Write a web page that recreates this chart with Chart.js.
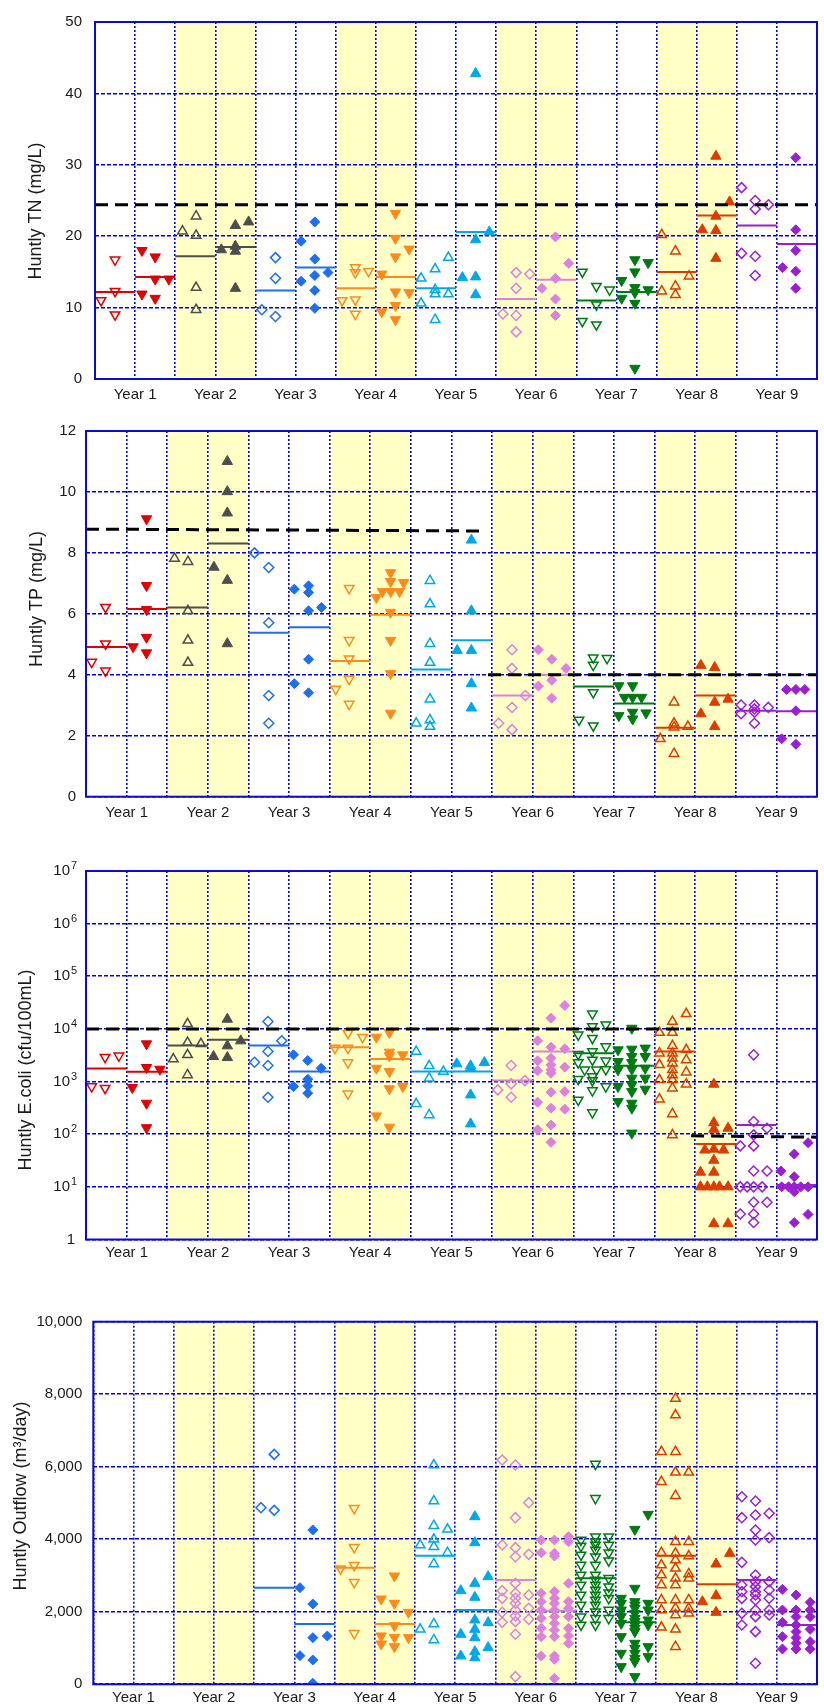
<!DOCTYPE html>
<html>
<head>
<meta charset="utf-8">
<script src="https://cdn.jsdelivr.net/npm/chart.js@4.4.1/dist/chart.umd.min.js"></script>
<style>
html, body { margin: 0; padding: 0; background: #fff; }
#wrap { position: relative; width: 824px; height: 1708px; }
canvas { position: absolute; left: 0; }
</style>
</head>
<body>
<div id="wrap">
  <canvas id="tn" width="824" height="412" style="top:0px"></canvas>
  <canvas id="tp" width="824" height="420" style="top:412px"></canvas>
  <canvas id="ecoli" width="824" height="440" style="top:832px"></canvas>
  <canvas id="flow" width="824" height="436" style="top:1272px"></canvas>
</div>
<script>
// each year: list of columns [offset inside half-year column, values...]
const years = ['Year 1', 'Year 2', 'Year 3', 'Year 4', 'Year 5', 'Year 6', 'Year 7', 'Year 8', 'Year 9'];
const shadedYears = [2, 4, 6, 8];
const yearColors = ['#e00000', '#4d4d4d', '#1e6ef0', '#ff8a1c', '#00a8e6', '#dc82dc', '#007a12', '#dc3c00', '#9a1fd0'];
const yearMarkers = ['down', 'up', 'diamond', 'down', 'up', 'diamond', 'down', 'up', 'diamond'];

// Huntly TN (mg/L)
const tnHollow = [
  [[.15, 11], [.5, 16.7, 12.3, 9.0]],
  [[.18, 20.7], [.52, 22.8, 20.1, 12.8, 9.7]],
  [[.16, 9.7], [.5, 17.0, 14.1, 8.75]],
  [[.16, 11.0], [.49, 15.6, 14.9, 11.1, 9.1], [.82, 15.1]],
  [[.13, 14.1, 10.6], [.48, 15.4, 12.5, 11.9, 8.3], [.81, 17.0, 11.9]],
  [[.17, 9.1], [.5, 14.9, 12.7, 8.9, 6.6], [.84, 14.7]],
  [[.15, 15.0, 8.1], [.5, 13.0, 10.4, 7.6], [.83, 12.5]],
  [[.13, 20.2, 12.3], [.47, 17.9, 13.0, 11.8], [.81, 14.4]],
  [[.12, 26.8, 17.6], [.46, 25.0, 23.8, 17.2, 14.5], [.79, 24.4]]
];
const tnFilled = [
  [[.17, 18.0, 11.9], [.5, 17.1, 14.0, 11.3], [.84, 14.0]],
  [[.15, 18.1], [.5, 21.5, 18.6, 17.9, 12.7], [.83, 22.0]],
  [[.14, 19.3, 13.7], [.48, 22.0, 16.8, 14.5, 12.4, 9.9], [.81, 14.9]],
  [[.15, 14.7, 9.4], [.49, 23.2, 19.7, 17.1, 12.2, 10.3, 8.3], [.83, 18.2, 12.1]],
  [[.16, 14.2], [.49, 42.8, 19.5, 14.3, 11.8], [.83, 20.6]],
  [[.14, 12.7], [.48, 19.9, 14.1, 11.2, 8.9], [.81, 16.2]],
  [[.13, 13.8, 11.3], [.46, 16.7, 15.0, 12.8, 12.1, 10.6, 1.5], [.79, 16.3, 12.5]],
  [[.14, 20.9], [.48, 31.2, 22.8, 20.8, 16.9], [.82, 24.8]],
  [[.14, 15.6], [.47, 31.0, 20.9, 18.0, 15.1, 12.7]]
];
const tnHollowMedian = [12.2, 17.2, 12.4, 12.7, 12.7, 11.2, 11.0, 15.0, 21.5];
const tnFilledMedian = [14.3, 18.5, 15.6, 14.3, 20.6, 13.9, 12.2, 22.9, 18.9];
const tnLimit = [[0, 24.4, 18, 24.4]];
const tnTicks = [0, 10, 20, 30, 40, 50];

// Huntly TP (mg/L)
const tpHollow = [
  [[.14, 4.42], [.48, 6.22, 5.02, 4.13]],
  [[.18, 7.82], [.51, 7.71, 6.10, 5.13, 4.40]],
  [[.15, 8.0], [.5, 7.52, 5.71, 3.32, 2.41]],
  [[.15, 3.53], [.48, 6.84, 5.13, 4.53, 3.86, 3.04]],
  [[.13, 2.41], [.47, 7.09, 6.32, 5.02, 4.40, 3.20, 2.52, 2.30]],
  [[.16, 2.41], [.49, 4.82, 4.21, 2.93, 2.20], [.82, 3.32]],
  [[.14, 2.52], [.49, 4.56, 4.32, 3.42, 2.33], [.83, 4.54]],
  [[.14, 1.90], [.48, 3.10, 2.41, 2.28, 1.41], [.82, 2.30]],
  [[.13, 3.01, 2.72], [.46, 3.01, 2.88, 2.77, 2.41], [.8, 2.93]]
];
const tpFilled = [
  [[.16, 4.92], [.49, 9.12, 6.93, 6.14, 5.23, 4.72]],
  [[.15, 7.53], [.48, 11.0, 10.01, 9.31, 7.1, 5.02]],
  [[.13, 6.81, 3.71], [.48, 6.92, 6.70, 6.10, 4.51, 3.41], [.8, 6.21]],
  [[.15, 6.54], [.3, 6.73], [.5, 7.35, 7.06, 6.73, 6.05, 5.13, 4.04, 2.74], [.72, 6.73], [.82, 7.03]],
  [[.14, 4.80], [.49, 8.42, 6.10, 4.80, 3.71, 2.91]],
  [[.14, 4.82, 3.63], [.47, 4.51, 3.82, 3.23], [.82, 4.21]],
  [[.12, 3.64, 2.66], [.26, 3.26], [.46, 3.64, 3.26, 2.77, 2.55], [.68, 3.26], [.79, 2.75]],
  [[.14, 4.31, 2.72], [.48, 4.24, 3.10, 2.30], [.81, 3.20]],
  [[.13, 1.90], [.25, 3.52], [.48, 3.52, 2.82, 1.72], [.7, 3.52]]
];
const tpHollowMedian = [4.91, 6.21, 5.38, 4.45, 4.17, 3.32, 3.62, 2.26, 2.82];
const tpFilledMedian = [6.16, 8.31, 5.56, 5.97, 5.13, 4.0, 3.06, 3.32, 2.80];
const tpLimit = [[0, 8.78, 9.8, 8.72], [9.9, 4.0, 18, 4.0]];
const tpTicks = [0, 2, 4, 6, 8, 10, 12];

// Huntly E.coli (cfu/100mL)
const ecHollow = [
  [[.14, 804], [.47, 2910, 749], [.81, 3080]],
  [[.15, 2670], [.5, 12500, 5520, 3220, 1340], [.83, 5210]],
  [[.15, 2330], [.48, 13800, 3720, 2020, 505], [.82, 5940]],
  [[.13, 4320], [.45, 8320, 4320, 2300, 584], [.81, 6980]],
  [[.13, 3720, 377], [.45, 1990, 1160, 233], [.8, 1550]],
  [[.14, 695], [.47, 2020, 904, 505], [.81, 1045]],
  [[.12, 7730, 3320, 2300, 1110, 449], [.28, 1670], [.47, 19400, 11100, 6680, 3720, 2580, 1245, 1045, 675, 258], [.57, 1670], [.8, 12000, 4620, 2480, 1700, 804]],
  [[.12, 8550, 3470, 2080, 1080, 462], [.44, 13800, 8550, 4770, 3470, 2780, 2240, 1670, 1340, 1080, 749, 243, 97], [.78, 19400, 4010, 2580, 1510, 891]],
  [[.11, 60, 10, 3.05], [.28, 10], [.44, 3220, 174, 97, 60, 20, 10, 5.1, 3.05, 2.1], [.65, 10], [.77, 130, 20, 5.1]]
];
const ecFilled = [
  [[.14, 770], [.49, 5210, 1850, 388, 133], [.82, 1720]],
  [[.14, 2990], [.48, 15300, 4770, 2860], [.81, 5940]],
  [[.11, 3220, 804], [.46, 2510, 1110, 828, 601], [.79, 1790]],
  [[.15, 6980, 1790, 223], [.47, 8550, 3620, 3080, 1550, 727, 136], [.8, 3220, 804]],
  [[.13, 2170], [.47, 1990, 1790, 558, 157], [.81, 2300]],
  [[.12, 5940, 2480, 1600, 406, 121], [.45, 16000, 4510, 2780, 2080, 1670, 1440, 628, 312, 150, 70], [.79, 27900, 4190, 1880, 646, 299]],
  [[.1, 4010, 2400, 1670, 804, 417], [.44, 10300, 4130, 2990, 2300, 1720, 1160, 865, 646, 388, 312, 105], [.77, 4320, 2990, 1790, 1160, 716]],
  [[.13, 19, 10], [.24, 50], [.3, 10], [.46, 891, 166, 124, 52, 32, 19, 10, 2], [.6, 10], [.7, 50], [.81, 130, 10, 2]],
  [[.11, 20], [.13, 10], [.3, 10], [.44, 42, 15.6, 10, 8.1, 2.1], [.6, 10], [.78, 69, 10, 3]]
];
const ecHollowMedian = [1770, 4840, 4840, 4510, 1550, 1045, 3470, 3720, 150];
const ecFilledMedian = [1530, 6200, 1550, 2670, 1550, 3720, 1990, 65, 10.9];
const ecLimit = [[0, 10000, 14.9, 10000], [14.9, 93, 18, 88]];
const ecTicks = [1, 10, 100, 1000, 10000, 100000, 1000000, 10000000];
const ecTickBase = ['1', '10', '10', '10', '10', '10', '10', '10'];
const ecTickExp = ['', '1', '2', '3', '4', '5', '6', '7'];

// Huntly Outflow (m3/day)
const flowHollow = [
  [],
  [],
  [[.17, 4871], [.5, 6341, 4797]],
  [[.15, 3189], [.49, 4852, 3777, 3281, 2812, 1406]],
  [[.13, 3841, 1516], [.47, 6047, 5055, 4374, 3998, 3795, 3318, 1663, 1222], [.81, 4273, 3630]],
  [[.17, 6185, 3841, 2582, 2371, 1985, 1709], [.5, 6047, 4595, 3768, 3520, 2785, 2509, 2371, 2233, 2049, 1884, 1728, 1379, 211], [.83, 5009, 3584, 2463, 2095, 1792]],
  [[.13, 3979, 3814, 3566, 3290, 3014, 2739, 2463, 2187, 1866, 1636], [.49, 6075, 5128, 4071, 3933, 3841, 3704, 3520, 3290, 3014, 2877, 2739, 2601, 2463, 2325, 2187, 2003, 1820, 1636], [.82, 4071, 3841, 3630, 3409, 2922, 2693, 2527, 2371, 2049, 1820]],
  [[.13, 6415, 5588, 3630, 3290, 3014, 2739, 2325, 2049, 1571], [.48, 7885, 7426, 6415, 5845, 5202, 3933, 3612, 3428, 3198, 2922, 2739, 2325, 2095, 1912, 1516, 1038], [.81, 5845, 3933, 3538, 3042, 2922, 2325, 2095, 1957]],
  [[.13, 5174, 4595, 3364, 2739, 2555, 2371, 1957, 1636], [.47, 5055, 4669, 4255, 3979, 3014, 2831, 2693, 2555, 2463, 2325, 2049, 1866, 1452, 579], [.81, 4715, 4044, 2831, 2601, 2371, 2049, 1912]]
];
const flowFilled = [
  [],
  [],
  [[.14, 2665, 790], [.46, 4255, 2215, 1287, 671, 28], [.82, 1333]],
  [[.16, 2353, 1333, 1112], [.49, 2987, 2233, 1617, 1296, 1038], [.84, 1985, 1287]],
  [[.14, 2582, 1379, 781], [.49, 4622, 3906, 2785, 2399, 1774, 1516, 1287, 901, 735], [.82, 2968, 1700, 1011]],
  [[.14, 3979, 3630, 2509, 2279, 2049, 1820, 1544, 1314, 781], [.47, 3979, 3612, 3538, 2555, 2371, 2233, 2049, 1866, 1682, 1498, 1314, 781, 689, 165], [.82, 4071, 3933, 2785, 2279, 2095, 1866, 1544, 1333, 1130]],
  [[.13, 2371, 2233, 2049, 1866, 1682, 1314, 855, 487], [.47, 4273, 2647, 2279, 2187, 2095, 1957, 1820, 1728, 1636, 1544, 1452, 1130, 993, 855, 717, 625, 211], [.8, 4687, 2233, 2049, 1774, 1636, 1038, 763]],
  [[.15, 2279], [.49, 3318, 2445, 1985], [.83, 3612]],
  [[.14, 2619, 2049, 1709, 1314, 974], [.48, 2463, 2049, 1866, 1636, 1452, 1287, 1130, 974], [.83, 2261, 2049, 1866, 1516, 1176, 974]]
];
const flowHollowMedian = [null, null, 2665, 3216, 3547, 2877, 2922, 3547, 2877];
const flowFilledMedian = [null, null, 1663, 1663, 2049, 2031, 1709, 2757, 1636];
const flowLimit = [];
const flowTicks = [0, 2000, 4000, 6000, 8000, 10000];

const FONT = 'Liberation Sans, Arial, sans-serif';
const TEXT = '#1a1a1a';

function toPoints(groups, base) {
  const pts = [];
  groups.forEach(g => {
    for (let k = 1; k < g.length; k++) pts.push({ x: base + g[0], y: g[k] });
  });
  return pts;
}

function markerOptions(i, filled) {
  const kind = yearMarkers[i];
  const c = yearColors[i];
  return {
    pointStyle: kind === 'diamond' ? 'rectRot' : 'triangle',
    pointRotation: kind === 'down' ? 180 : 0,
    pointRadius: kind === 'diamond' ? 5 : (filled ? 6 : 5.5),
    pointBackgroundColor: filled ? c : 'rgba(0,0,0,0)',
    pointBorderColor: c,
    pointBorderWidth: filled ? 1 : 1.5
  };
}

function segment(x0, y0, x1, y1, color, width, dash, order) {
  return {
    data: [{ x: x0, y: y0 }, { x: x1, y: y1 }],
    showLine: true, borderColor: color, borderWidth: width, borderDash: dash,
    pointRadius: 0, order: order
  };
}

function buildDatasets(hollow, filled, hMed, fMed, limits) {
  const ds = [];
  limits.forEach(l => ds.push(segment(l[0], l[1], l[2], l[3], '#000', 3, [13, 7], 0)));
  for (let i = 0; i < years.length; i++) {
    ds.push(Object.assign({ data: toPoints(hollow[i], 2 * i), order: 1 }, markerOptions(i, false)));
    ds.push(Object.assign({ data: toPoints(filled[i], 2 * i + 1), order: 1 }, markerOptions(i, true)));
    if (hMed[i] != null) ds.push(segment(2 * i, hMed[i], 2 * i + 1, hMed[i], yearColors[i], 2, [], 2));
    if (fMed[i] != null) ds.push(segment(2 * i + 1, fMed[i], 2 * i + 2, fMed[i], yearColors[i], 2, [], 2));
  }
  return ds;
}

const panelPlugin = {
  id: 'panel',
  beforeDraw(chart) {
    const { ctx, chartArea: a, scales: { x } } = chart;
    ctx.save();
    ctx.fillStyle = '#ffffc6';
    shadedYears.forEach(y => {
      const x0 = x.getPixelForValue(2 * (y - 1)), x1 = x.getPixelForValue(2 * y);
      ctx.fillRect(x0, a.top, x1 - x0, a.bottom - a.top);
    });
    ctx.restore();
  },
  afterDraw(chart) {
    const { ctx, chartArea: a, scales: { y } } = chart;
    const o = chart.options.plugins.panel;
    ctx.save();
    ctx.strokeStyle = '#0a0ad2';
    ctx.lineWidth = 2;
    ctx.strokeRect(a.left, a.top, a.right - a.left, a.bottom - a.top);
    // power-of-ten labels with raised exponents (log panel only)
    if (o.powers) {
      ctx.fillStyle = TEXT;
      ecTicks.forEach((v, k) => {
        const py = y.getPixelForValue(v);
        ctx.font = '15px ' + FONT;
        ctx.textBaseline = 'middle';
        ctx.textAlign = 'right';
        const baseRight = ecTickExp[k] ? a.left - 16 : a.left - 11;
        ctx.fillText(ecTickBase[k], baseRight, py);
        if (ecTickExp[k]) {
          ctx.font = '11px ' + FONT;
          ctx.textAlign = 'left';
          ctx.textBaseline = 'alphabetic';
          ctx.fillText(ecTickExp[k], baseRight + 1, py - 2);
        }
      });
    }
    ctx.translate(o.titleX, o.titleY);
    ctx.rotate(-Math.PI / 2);
    ctx.fillStyle = TEXT;
    ctx.font = '18px ' + FONT;
    ctx.textAlign = 'center';
    ctx.textBaseline = 'middle';
    ctx.fillText(o.title, 0, 0);
    ctx.restore();
  }
};

function makePanel(id, p) {
  const canvas = document.getElementById(id);
  const canvasTop = p.canvasTop, canvasH = canvas.height;
  const yScale = {
    type: p.log ? 'logarithmic' : 'linear',
    min: p.ticks[0], max: p.ticks[p.ticks.length - 1],
    afterBuildTicks: s => { s.ticks = p.ticks.map(v => ({ value: v })); },
    afterFit: s => { s.width = p.left; },
    grid: { color: '#0000e6', lineWidth: 1.6, drawTicks: false },
    border: { display: false, dash: [4, 2] },
    ticks: {
      display: !p.log,
      padding: p.tickPad, color: TEXT, font: { size: 15, family: FONT },
      callback: p.label
    }
  };
  return new Chart(canvas, {
    type: 'scatter',
    data: { datasets: buildDatasets(p.hollow, p.filled, p.hMed, p.fMed, p.limits) },
    options: {
      responsive: false, animation: false, devicePixelRatio: 1, events: [],
      layout: { padding: { top: p.top - canvasTop, right: 824 - p.right, bottom: 0, left: 0 } },
      plugins: {
        legend: { display: false }, tooltip: { enabled: false },
        panel: { title: p.title, titleX: p.titleX, titleY: p.titleY - canvasTop, powers: !!p.log }
      },
      scales: {
        x: {
          type: 'linear', min: 0, max: 18,
          afterBuildTicks: s => { s.ticks = Array.from({ length: 19 }, (_, k) => ({ value: k })); },
          afterFit: s => { s.height = canvasTop + canvasH - p.bottom; },
          grid: { color: '#0000e6', lineWidth: 1.6, drawTicks: false },
          border: { display: false, dash: [2, 2] },
          ticks: {
            autoSkip: false, maxRotation: 0, padding: p.xPad, color: TEXT,
            font: { size: 15, family: FONT },
            callback: v => (v % 2 === 1 ? years[(v - 1) / 2] : '')
          }
        },
        y: yScale
      }
    },
    plugins: [panelPlugin]
  });
}

makePanel('tn', {
  canvasTop: 0, left: 95, right: 821, top: 17.3, bottom: 379, tickPad: 13, xPad: 7,
  ticks: tnTicks, label: v => String(v),
  hollow: tnHollow, filled: tnFilled, hMed: tnHollowMedian, fMed: tnFilledMedian, limits: tnLimit,
  title: 'Huntly TN (mg/L)', titleX: 36, titleY: 211
});
makePanel('tp', {
  canvasTop: 412, left: 86, right: 821, top: 428.3, bottom: 796.7, tickPad: 10, xPad: 7,
  ticks: tpTicks, label: v => String(v),
  hollow: tpHollow, filled: tpFilled, hMed: tpHollowMedian, fMed: tpFilledMedian, limits: tpLimit,
  title: 'Huntly TP (mg/L)', titleX: 36.7, titleY: 599
});
makePanel('ecoli', {
  canvasTop: 832, left: 86, right: 821, top: 871, bottom: 1239.5, tickPad: 9, xPad: 4, log: true,
  ticks: ecTicks, label: v => '',
  hollow: ecHollow, filled: ecFilled, hMed: ecHollowMedian, fMed: ecFilledMedian, limits: ecLimit,
  title: 'Huntly E.coli (cfu/100mL)', titleX: 26, titleY: 1070
});
makePanel('flow', {
  canvasTop: 1272, left: 93.3, right: 821, top: 1321.7, bottom: 1684.3, tickPad: 11, xPad: 5,
  ticks: flowTicks, label: v => v.toLocaleString('en-US'),
  hollow: flowHollow, filled: flowFilled, hMed: flowHollowMedian, fMed: flowFilledMedian, limits: flowLimit,
  title: 'Huntly Outflow (m\u00b3/day)', titleX: 21, titleY: 1496
});
</script>
</body>
</html>
